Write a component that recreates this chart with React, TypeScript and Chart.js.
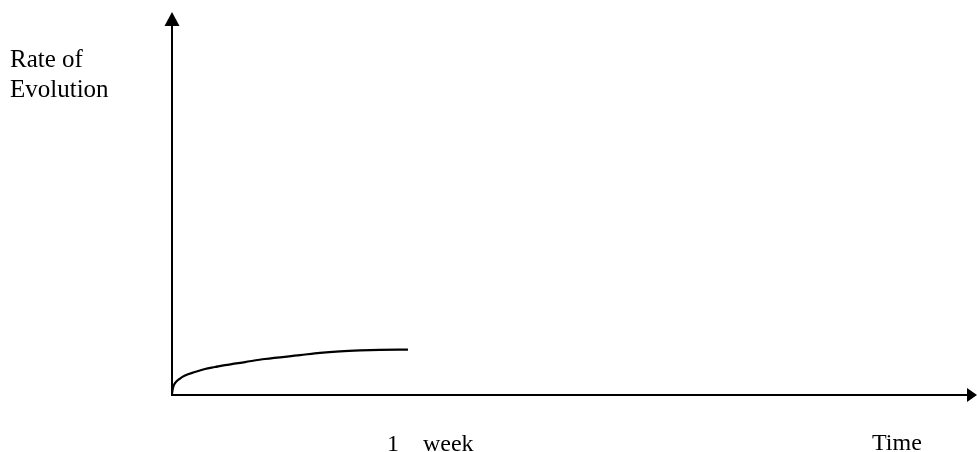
import React, { useEffect, useRef } from "react";
import { Chart, registerables } from "chart.js";

Chart.register(...registerables);

// Time in days since start, rate of evolution (arbitrary units, 0..100 scale)
const timeDays = [0, 0.03, 0.089, 0.237, 0.386, 0.682, 0.979, 1.275, 1.572, 2.165, 2.758, 3.797, 4.39, 4.983, 5.576, 6.169, 7.0];
const rateValues = [0.4, 1.9, 3.1, 4.3, 5.1, 6.0, 6.8, 7.3, 7.8, 8.6, 9.4, 10.4, 11.0, 11.4, 11.65, 11.8, 11.85];

const yAxisTitle = ["Rate of", "Evolution"];
const xAxisTitle = "Time";
const xTickValue = 7;
const xTickNumber = "1";
const xTickUnit = "week";

const X_MAX = 23.88;
const Y_MAX = 100;

const axesPlugin = {
  id: "arrowAxes",
  afterDraw(chart: any) {
    const { ctx, chartArea } = chart;
    const { left, right, top, bottom } = chartArea;
    ctx.save();
    ctx.strokeStyle = "#000";
    ctx.fillStyle = "#000";
    ctx.lineWidth = 2;
    // y axis
    ctx.beginPath();
    ctx.moveTo(left, bottom + 1);
    ctx.lineTo(left, top + 12);
    ctx.stroke();
    ctx.beginPath();
    ctx.moveTo(left, top);
    ctx.lineTo(left - 7.5, top + 14);
    ctx.lineTo(left + 7.5, top + 14);
    ctx.closePath();
    ctx.fill();
    // x axis
    ctx.beginPath();
    ctx.moveTo(left - 1, bottom);
    ctx.lineTo(right - 8, bottom);
    ctx.stroke();
    ctx.beginPath();
    ctx.moveTo(right, bottom);
    ctx.lineTo(right - 10, bottom - 7);
    ctx.lineTo(right - 10, bottom + 7);
    ctx.closePath();
    ctx.fill();

    // texts
    ctx.font = '25px "Liberation Serif", "Times New Roman", serif';
    ctx.textAlign = "left";
    ctx.textBaseline = "alphabetic";
    ctx.fillText(yAxisTitle[0], 10, 67);
    ctx.fillText(yAxisTitle[1], 10, 97);

    ctx.font = '24px "Liberation Serif", "Times New Roman", serif';
    const xs = chart.scales.x;
    const tickPx = xs.getPixelForValue(xTickValue);
    ctx.fillText(xTickNumber, tickPx - 21, 451);
    ctx.fillText(xTickUnit, tickPx + 15, 451);
    ctx.fillText(xAxisTitle, 872, 450);
    ctx.restore();
  },
};

export default function App() {
  const ref = useRef<HTMLCanvasElement | null>(null);
  useEffect(() => {
    if (!ref.current) return;
    const chart = new Chart(ref.current, {
      type: "line",
      data: {
        datasets: [
          {
            data: timeDays.map((t, i) => ({ x: t, y: rateValues[i] })),
            borderColor: "#000",
            borderWidth: 2.2,
            pointRadius: 0,
            fill: false,
            cubicInterpolationMode: "monotone",
          },
        ],
      },
      options: {
        animation: false,
        responsive: true,
        maintainAspectRatio: false,
        layout: { padding: { left: 172, top: 12, right: 0, bottom: 57 } },
        plugins: { legend: { display: false }, tooltip: { enabled: false } },
        scales: {
          x: { type: "linear", min: 0, max: X_MAX, display: false },
          y: { type: "linear", min: 0, max: Y_MAX, display: false },
        },
      },
      plugins: [axesPlugin],
    });
    return () => chart.destroy();
  }, []);
  return (
    <div
      style={{
        position: "fixed",
        left: 0,
        top: 0,
        width: 977,
        height: 452,
        background: "#fff",
      }}
    >
      <canvas ref={ref} />
    </div>
  );
}
